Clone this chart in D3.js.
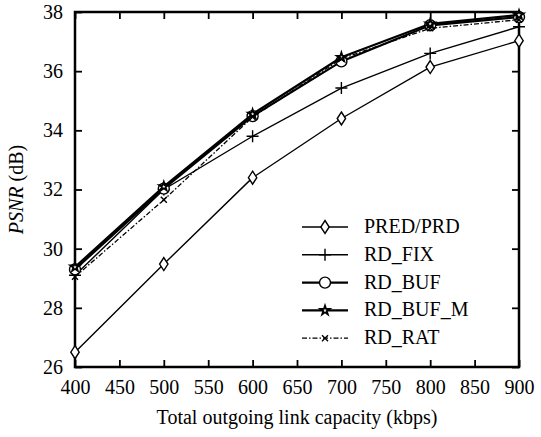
<!DOCTYPE html>
<html>
<head>
<meta charset="utf-8">
<script src="https://cdn.jsdelivr.net/npm/d3@7"></script>
</head>
<body style="margin:0">
<svg id="chart" width="541" height="437"></svg>
<script>
// Link capacity (kbps) on the x axis
const capacities = [400, 500, 600, 700, 800, 900];

// PSNR (dB) per scheme
const predPrd  = [26.5, 29.48, 32.4, 34.4, 36.14, 37.03];
const rdFix    = [29.1, 32.0, 33.8, 35.43, 36.6, 37.5];
const rdBuf    = [29.3, 32.03, 34.48, 36.33, 37.55, 37.83];
const rdBufM   = [29.38, 32.1, 34.55, 36.47, 37.6, 37.9];
const rdRat    = [29.05, 31.65, 34.45, 36.42, 37.45, 37.74];

const seriesNames = ["PRED/PRD", "RD_FIX", "RD_BUF", "RD_BUF_M", "RD_RAT"];

const xTicks = [400, 450, 500, 550, 600, 650, 700, 750, 800, 850, 900];
const yTicks = [26, 28, 30, 32, 34, 36, 38];

const FONT = `"Liberation Serif"`;
const FS = "20px";

const svg = d3.select("#chart");
const margin = { left: 75, right: 22, top: 12, bottom: 70 };
const W = 541, H = 437;

const x = d3.scaleLinear().domain([400, 900]).range([margin.left, W - margin.right]);
const y = d3.scaleLinear().domain([26, 38]).range([H - margin.bottom, margin.top]);

// marker shapes
const markers = {
  diamond: "M0,-6.5L4.2,0L0,6.5L-4.2,0Z",
  plus: "M-6,0H6M0,-6V6",
  circle: d3.symbol(d3.symbolCircle, 95)(),
  star: d3.symbol(d3.symbolStar, 26)(),
  cross: "M-3,-3L3,3M-3,3L3,-3"
};

const series = [
  { name: seriesNames[0], values: predPrd, marker: "diamond", width: 1.4, dash: null, fill: "#fff" },
  { name: seriesNames[1], values: rdFix,   marker: "plus",    width: 1.4, dash: null, fill: "none" },
  { name: seriesNames[2], values: rdBuf,   marker: "circle",  width: 2.2, dash: null, fill: "#fff" },
  { name: seriesNames[3], values: rdBufM,  marker: "star",    width: 2.2, dash: null, fill: "#fff" },
  { name: seriesNames[4], values: rdRat,   marker: "cross",   width: 1.3, dash: "5,2,1.5,2", fill: "none" }
];

const line = d3.line().x((d, i) => x(capacities[i])).y(d => y(d));

// frame
svg.append("rect")
  .attr("x", margin.left).attr("y", margin.top)
  .attr("width", W - margin.right - margin.left)
  .attr("height", H - margin.bottom - margin.top)
  .attr("fill", "none").attr("stroke", "#000").attr("stroke-width", 2.5);

// axes with inward ticks
const axes = [
  svg.append("g")
    .attr("transform", `translate(0,${H - margin.bottom})`)
    .call(d3.axisBottom(x).tickValues(xTicks).tickSizeInner(-7).tickSizeOuter(0).tickPadding(13)),
  svg.append("g")
    .attr("transform", `translate(${margin.left},0)`)
    .call(d3.axisLeft(y).tickValues(yTicks).tickSizeInner(-7).tickSizeOuter(0).tickPadding(12)),
  // ticks along top and right edges
  svg.append("g")
    .attr("transform", `translate(0,${margin.top})`)
    .call(d3.axisTop(x).tickValues(xTicks).tickSizeInner(-7).tickSizeOuter(0).tickFormat("")),
  svg.append("g")
    .attr("transform", `translate(${W - margin.right},0)`)
    .call(d3.axisRight(y).tickValues(yTicks).tickSizeInner(-7).tickSizeOuter(0).tickFormat(""))
];
axes.forEach(g => g.attr("font-family", null).attr("font-size", null));

svg.selectAll(".domain").remove();
svg.selectAll(".tick line").attr("stroke", "#000").attr("stroke-width", 1.8);
svg.selectAll(".tick text")
  .attr("fill", "#000")
  .style("font-family", FONT)
  .style("font-size", FS);

// lines and markers
series.forEach(s => {
  svg.append("path")
    .datum(s.values)
    .attr("d", line)
    .attr("fill", "none")
    .attr("stroke", "#000")
    .attr("stroke-width", s.width)
    .attr("stroke-dasharray", s.dash);
  svg.append("g").selectAll("path")
    .data(s.values)
    .join("path")
    .attr("transform", (d, i) => `translate(${x(capacities[i])},${y(d)})`)
    .attr("d", markers[s.marker])
    .attr("fill", s.fill)
    .attr("stroke", "#000")
    .attr("stroke-width", s.marker === "star" ? 1.8 : 1.4);
});

// legend
const legend = svg.append("g");
series.forEach((s, i) => {
  const ly = 227 + i * 27.8;
  const g = legend.append("g").attr("transform", `translate(0,${ly})`);
  g.append("line")
    .attr("x1", 302).attr("x2", 348).attr("y1", 0).attr("y2", 0)
    .attr("stroke", "#000")
    .attr("stroke-width", s.width)
    .attr("stroke-dasharray", s.dash);
  g.append("path")
    .attr("transform", "translate(325,0)")
    .attr("d", markers[s.marker])
    .attr("fill", s.fill)
    .attr("stroke", "#000")
    .attr("stroke-width", s.marker === "star" ? 1.8 : 1.4);
  g.append("text")
    .attr("x", 364).attr("y", 6)
    .style("font-family", FONT)
    .style("font-size", FS)
    .text(s.name);
});

// axis titles
svg.append("text")
  .attr("x", (margin.left + W - margin.right) / 2)
  .attr("y", 424)
  .attr("text-anchor", "middle")
  .style("font-family", FONT)
  .style("font-size", FS)
  .text("Total outgoing link capacity (kbps)");

const yt = svg.append("text")
  .attr("transform", `translate(23,${(margin.top + H - margin.bottom) / 2}) rotate(-90)`)
  .attr("text-anchor", "middle")
  .style("font-family", FONT)
  .style("font-size", FS);
yt.append("tspan").style("font-style", "italic").text("PSNR");
yt.append("tspan").text(" (dB)");
</script>
</body>
</html>
